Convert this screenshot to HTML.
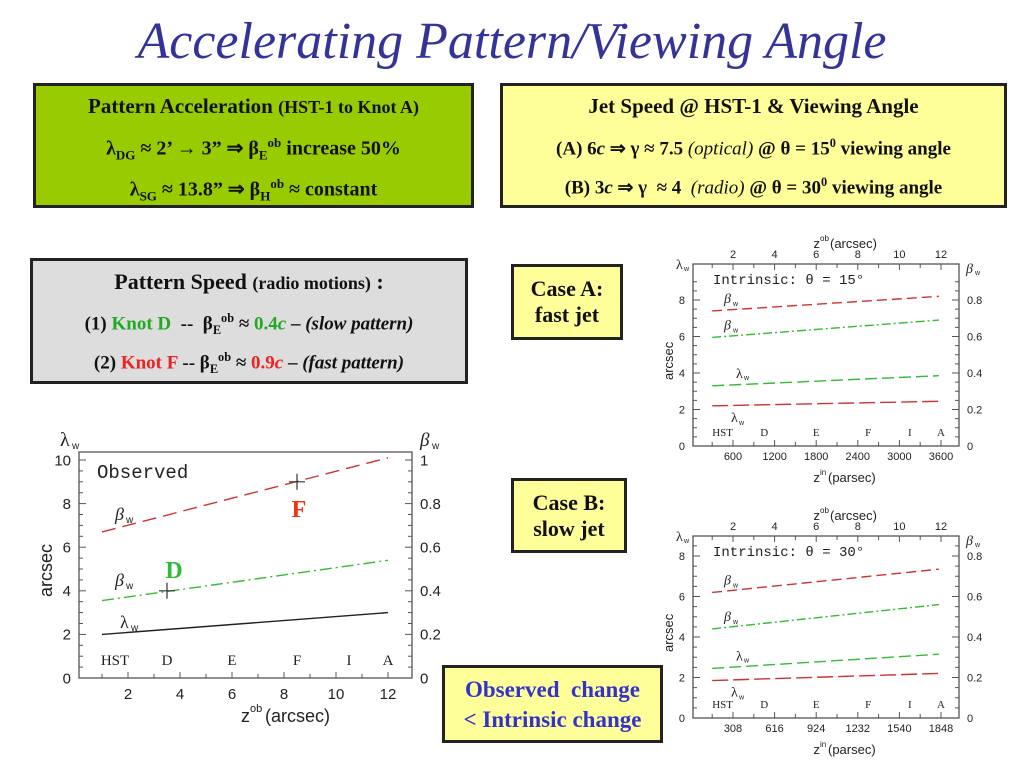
<!DOCTYPE html>
<html><head><meta charset="utf-8">
<style>
body{margin:0;width:1024px;height:768px;background:#fff;position:relative;overflow:hidden;font-family:"Liberation Serif",serif;}
.box{position:absolute;box-sizing:border-box;border:3px solid #222;text-align:center;font-weight:bold;color:#111;}
.title{position:absolute;left:0;width:1024px;top:12px;text-align:center;font-style:italic;color:#333399;font-size:52px;}
sub,sup{font-size:65%;}
svg{position:absolute;left:0;top:0;}
</style></head><body>
<div class="title">Accelerating Pattern/Viewing Angle</div>

<div class="box" style="left:33px;top:83px;width:441px;height:125px;background:#99cc00;">
<div style="font-size:21px;margin-top:8px">Pattern Acceleration <span style="font-size:18px">(HST-1 to Knot A)</span></div>
<div style="font-size:20px;margin-top:16px">λ<sub>DG</sub> ≈ 2’ → 3” ⇒ β<sub>E</sub><sup>ob</sup> increase 50%</div>
<div style="font-size:20px;margin-top:12px">λ<sub>SG</sub> ≈ 13.8” ⇒ β<sub>H</sub><sup>ob</sup> ≈ constant</div>
</div>

<div class="box" style="left:500px;top:83px;width:507px;height:125px;background:#ffff99;">
<div style="font-size:21px;margin-top:8px">Jet Speed @ HST-1 &amp; Viewing Angle</div>
<div style="font-size:19px;margin-top:17px">(A) 6<i>c</i> ⇒ γ ≈ 7.5 <i style="font-weight:normal">(optical)</i> @ θ = 15<sup>0</sup> viewing angle</div>
<div style="font-size:19px;margin-top:15px">(B) 3<i>c</i> ⇒ γ &nbsp;≈ 4 &nbsp;<i style="font-weight:normal">(radio)</i> @ θ = 30<sup>0</sup> viewing angle</div>
</div>

<div class="box" style="left:30px;top:258px;width:438px;height:126px;background:#dddddd;">
<div style="font-size:22px;margin-top:8px">Pattern Speed <span style="font-size:18px">(radio motions)</span> :</div>
<div style="font-size:19px;margin-top:16px">(1) <span style="color:#22aa22">Knot D</span> &nbsp;-- &nbsp;β<sub>E</sub><sup>ob</sup> ≈ <span style="color:#22aa22">0.4<i>c</i></span> – <i>(slow pattern)</i></div>
<div style="font-size:19px;margin-top:12px">(2) <span style="color:#ee2222">Knot F</span> -- β<sub>E</sub><sup>ob</sup> ≈ <span style="color:#ee2222">0.9<i>c</i></span> – <i>(fast pattern)</i></div>
</div>

<div class="box" style="left:511px;top:264px;width:112px;height:76px;background:#ffff99;font-size:22px;line-height:26px;padding-top:9px">Case A:<br>fast jet</div>
<div class="box" style="left:511px;top:478px;width:116px;height:75px;background:#ffff99;font-size:22px;line-height:26px;padding-top:9px">Case B:<br>slow jet</div>
<div class="box" style="left:442px;top:665px;width:221px;height:78px;background:#ffff99;font-size:23px;line-height:30px;padding-top:7px;color:#3333cc">Observed&nbsp; change<br>&lt; Intrinsic change</div>

<svg id="chart" width="1024" height="768"></svg>

<script>
// Observed chart data (arcsec units on left axis)
const knotNames = ["HST","D","E","F","I","A"];
const knotPos = [1.5,3.5,6,8.5,10.5,12];
const obsX = [1,12];
const obsBeta = [6.7,10.1];
const obsBetaSlow = [3.55,5.4];
const obsLambda = [2.0,3.0];
const obsMarkX = [3.5,8.5];
const obsMarkY = [4,9];
// Intrinsic case A
const aX = [1,11.9];
const aBetaFast = [7.4,8.2];
const aBetaSlow = [5.95,6.9];
const aLambdaSlow = [3.3,3.85];
const aLambdaFast = [2.2,2.45];
const aBottomTicks = ["600","1200","1800","2400","3000","3600"];
// Intrinsic case B
const bX = [1,11.9];
const bBetaFast = [6.2,7.35];
const bBetaSlow = [4.4,5.6];
const bLambdaSlow = [2.45,3.15];
const bLambdaFast = [1.85,2.2];
const bBottomTicks = ["308","616","924","1232","1540","1848"];
const topTicks = ["2","4","6","8","10","12"];

const svg = document.getElementById('chart');
const NS = 'http://www.w3.org/2000/svg';
function mk(tag, attrs, txt){
  const e = document.createElementNS(NS, tag);
  for (const k in attrs) e.setAttribute(k, attrs[k]);
  if (txt !== undefined) e.textContent = txt;
  svg.appendChild(e);
  return e;
}
function txt(x,y,s,size,opts){
  const o = Object.assign({x:x,y:y,'font-size':size,'font-family':'"Liberation Sans",sans-serif',fill:'#222'}, opts||{});
  return mk('text', o, s);
}

function chart(cfg){
  const sx = v => cfg.x0 + v*cfg.kx;
  const sy = v => cfg.bottom - v*cfg.ky;
  const frame = mk('rect',{x:cfg.left,y:cfg.top,width:cfg.right-cfg.left,height:cfg.bottom-cfg.top,fill:'none',stroke:'#555','stroke-width':1.3});
  
  
  for (let v=1; v<=12.5; v+=0.5){
    const X = sx(v); if (X<cfg.left||X>cfg.right) continue;
    const L = (v%2===0)?6:(Number.isInteger(v)?4:0);
    if (!L) continue;
    mk('line',{x1:X,x2:X,y1:cfg.bottom,y2:cfg.bottom-L,stroke:'#555'});
    if (cfg.topAxis) mk('line',{x1:X,x2:X,y1:cfg.top,y2:cfg.top+L,stroke:'#555'});
  }
  for (let v=0; v<=cfg.ymax; v+=0.5){
    const Y = sy(v); if (Y<cfg.top) continue;
    const L = (v%2===0)?7:4;
    mk('line',{x1:cfg.left,x2:cfg.left+L,y1:Y,y2:Y,stroke:'#555'});
    mk('line',{x1:cfg.right,x2:cfg.right-L,y1:Y,y2:Y,stroke:'#555'});
    if (v%2===0){
      const t1 = txt(cfg.left-8,Y+cfg.fs*0.35,String(v),cfg.fs,{'text-anchor':'end'});
      
      
      const t2 = txt(cfg.right+8,Y+cfg.fs*0.35,v===10?'1':(v===0?'0':(v/10).toFixed(1)),cfg.fs);
      
      
    }
  }
  knotNames.forEach((k,i)=>{
    const t = mk('text',{x:sx(knotPos[i]),y:sy(0)-cfg.knotDy,'text-anchor':'middle','font-size':cfg.fs,'font-family':'"Liberation Serif",serif',fill:'#222'},k);
    
    
  });
  cfg.series.forEach(s=>{
    const l = mk('line',{x1:sx(cfg.xs[0]),y1:sy(s.v[0]),x2:sx(cfg.xs[1]),y2:sy(s.v[1]),stroke:s.c,'stroke-width':1.4,'stroke-dasharray':s.d});
    
    
  });
  return {sx,sy};
}

const m = chart({name:'observed',left:79,right:412,top:452,bottom:678,x0:76,kx:26,ky:21.8,ymax:10,fs:15,knotDy:13,xs:obsX,
  series:[{v:obsBeta,c:'#cc3333',d:'14 7',n:'fast-beta-line'},{v:obsBetaSlow,c:'#33bb33',d:'12 4 2 4',n:'slow-beta-line'},{v:obsLambda,c:'#222',d:'none',n:'lambda-line'}]});
obsMarkX.forEach((x,i)=>{
  const X=m.sx(x),Y=m.sy(obsMarkY[i]);
  const p = mk('path',{d:`M${X-8} ${Y}H${X+8}M${X} ${Y-8}V${Y+8}`,stroke:'#333','stroke-width':1.2});
  
  
});
[2,4,6,8,10,12].forEach(v=>txt(m.sx(v),699,String(v),15,{'text-anchor':'middle'}));
txt(250,722,'z',18,{'text-anchor':'end'}); txt(250,712,'ob',11); txt(265,722,'(arcsec)',18);
txt(52,597,'arcsec',18,{transform:'rotate(-90 52 597)'});
txt(60,446,'λ',20,{'font-family':'"Liberation Serif",serif'}); txt(72,449,'w',10);
txt(420,446,'β',19,{'font-family':'"Liberation Serif",serif','font-style':'italic'}); txt(432,449,'w',10);
txt(97,478,'Observed',19,{'font-family':'"Liberation Mono",monospace'});
txt(115,520,'β',18,{'font-style':'italic','font-family':'"Liberation Serif",serif'}); txt(126,523,'w',10);
txt(115,586,'β',18,{'font-style':'italic','font-family':'"Liberation Serif",serif'}); txt(126,589,'w',10);
txt(120,628,'λ',18,{'font-family':'"Liberation Serif",serif'}); txt(131,631,'w',10);
txt(174,578,'D',24,{'font-family':'"Liberation Serif",serif','font-weight':'bold',fill:'#33bb33','text-anchor':'middle'});
txt(299,517,'F',24,{'font-family':'"Liberation Serif",serif','font-weight':'bold',fill:'#ee3311','text-anchor':'middle'});

function small(top,bottom,ky,ymax,fa,fb,ga,gb,bTicks,theta,name){
  const c = chart({name:name,left:693,right:959,top:top,bottom:bottom,x0:691.4,kx:20.8,ky:ky,ymax:ymax,fs:11,knotDy:10,xs:aX,topAxis:true,
    series:[{v:fa,c:'#cc3333',d:'10 5',n:'fast-beta-line'},{v:ga,c:'#33bb33',d:'9 3 2 3',n:'slow-beta-line'},{v:gb,c:'#33bb33',d:'12 5',n:'slow-lambda-line'},{v:fb,c:'#cc3333',d:'16 5',n:'fast-lambda-line'}]});
  topTicks.forEach((t,i)=>txt(c.sx(2+2*i),top-6,t,11,{'text-anchor':'middle'}));
  bTicks.forEach((t,i)=>txt(c.sx(2+2*i),bottom+14,t,11,{'text-anchor':'middle'}));
  txt(820,top-16,'z',13,{'text-anchor':'end'}); txt(820,top-23,'ob',8); txt(830,top-16,'(arcsec)',13);
  txt(820,bottom+36,'z',13,{'text-anchor':'end'}); txt(820,bottom+29,'in',8); txt(828,bottom+36,'(parsec)',13);
  txt(673,(top+bottom)/2+25,'arcsec',13,{transform:`rotate(-90 673 ${(top+bottom)/2+25})`});
  txt(676,top+5,'λ',14,{'font-family':'"Liberation Serif",serif'}); txt(684,top+7,'w',7);
  txt(966,top+9,'β',14,{'font-style':'italic','font-family':'"Liberation Serif",serif'}); txt(975,top+11,'w',7);
  txt(713,top+20,'Intrinsic: θ = '+theta+'°',14,{'font-family':'"Liberation Mono",monospace'});
  txt(724,c.sy(fa[0])-8,'β',14,{'font-style':'italic','font-family':'"Liberation Serif",serif'}); txt(733,c.sy(fa[0])-5,'w',7);
  txt(724,c.sy(ga[0])-8,'β',14,{'font-style':'italic','font-family':'"Liberation Serif",serif'}); txt(733,c.sy(ga[0])-5,'w',7);
  txt(736,c.sy(gb[0])-8,'λ',14,{'font-family':'"Liberation Serif",serif'}); txt(744,c.sy(gb[0])-6,'w',7);
  txt(731,c.sy(fb[0])+16,'λ',14,{'font-family':'"Liberation Serif",serif'}); txt(739,c.sy(fb[0])+19,'w',7);
}
small(264,446,18.25,9,aBetaFast,aLambdaFast,aBetaSlow,aLambdaSlow,aBottomTicks,'15','case-a-chart');
small(536,718,20.25,8.5,bBetaFast,bLambdaFast,bBetaSlow,bLambdaSlow,bBottomTicks,'30','case-b-chart');
</script>
</body></html>
